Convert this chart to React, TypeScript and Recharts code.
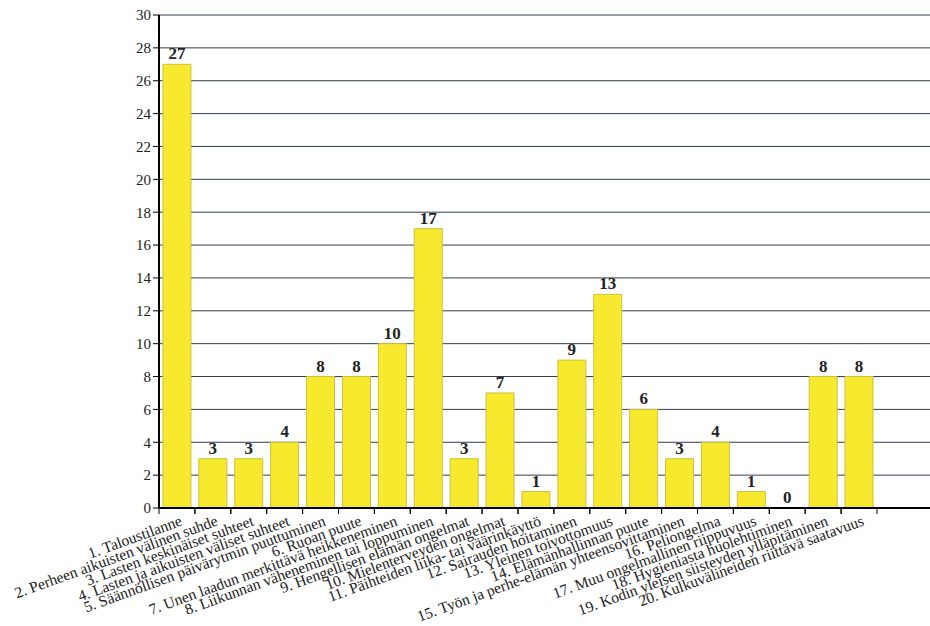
import React from "react";
import { Bar, CartesianGrid, ComposedChart, LabelList, Line, XAxis, YAxis } from "recharts";

const categories = [
  "1. Taloustilanne",
  "2. Perheen aikuisten välinen suhde",
  "3. Lasten keskinäiset suhteet",
  "4. Lasten ja aikuisten väliset suhteet",
  "5. Säännöllisen päivärytmin puuttuminen",
  "6. Ruoan puute",
  "7. Unen laadun merkittävä heikkeneminen",
  "8. Liikunnan väheneminen tai loppuminen",
  "9. Hengellisen elämän ongelmat",
  "10. Mielenterveyden ongelmat",
  "11. Päihteiden liika- tai väärinkäyttö",
  "12. Sairauden hoitaminen",
  "13. Yleinen toivottomuus",
  "14. Elämänhallinnan puute",
  "15. Työn ja perhe-elämän yhteensovittaminen",
  "16. Peliongelma",
  "17. Muu ongelmallinen riippuvuus",
  "18. Hygieniasta huolehtiminen",
  "19. Kodin yleisen siisteyden ylläpitäminen",
  "20. Kulkuvälineiden riittävä saatavuus",
];

const counts = [27, 3, 3, 4, 8, 8, 10, 17, 3, 7, 1, 9, 13, 6, 3, 4, 1, 0, 8, 8];

const yTicks = [0, 2, 4, 6, 8, 10, 12, 14, 16, 18, 20, 22, 24, 26, 28, 30];

const data = categories.map((name, i) => ({ name, count: counts[i] }));

const FONT = "'Liberation Serif', 'DejaVu Serif', serif";

function CategoryTick(props: any) {
  const { x, y, payload } = props;
  const half = payload?.offset ?? 18;
  return (
    <g>
      <line x1={x - half} y1={y - 8} x2={x - half} y2={y - 2} stroke="#000" strokeWidth={1} />
      <line x1={x + half} y1={y - 8} x2={x + half} y2={y - 2} stroke="#000" strokeWidth={1} />
      <text
        x={x + 6}
        y={y + 9}
        textAnchor="end"
        transform={`rotate(-20, ${x + 6}, ${y + 9})`}
        fontFamily={FONT}
        fontSize={15.5}
        fill="#222"
      >
        {payload.value}
      </text>
    </g>
  );
}

// drawn on an invisible line so that the zero value gets its label too
function ValueLabel(props: any) {
  const { x, y, width, value } = props;
  return (
    <text
      x={x + (width || 0) / 2}
      y={y - 5}
      textAnchor="middle"
      fontFamily={FONT}
      fontSize={17}
      fontWeight="bold"
      fill="#222"
    >
      {value}
    </text>
  );
}

export default function App() {
  return (
    <div style={{ position: "absolute", left: 0, top: 0, background: "#fff" }}>
      <ComposedChart
        width={930}
        height={626}
        data={data}
        margin={{ top: 15, right: 0, bottom: 0, left: 0 }}
        barCategoryGap="11%"
      >
        <CartesianGrid vertical={false} stroke="#2f3b55" strokeWidth={1} />
        <XAxis
          dataKey="name"
          interval={0}
          height={118}
          tickLine={false}
          axisLine={{ stroke: "#000", strokeWidth: 2 }}
          tick={<CategoryTick />}
          padding={{ left: 0, right: 53 }}
        />
        <YAxis
          width={159}
          domain={[0, 30]}
          ticks={yTicks}
          interval={0}
          axisLine={{ stroke: "#000", strokeWidth: 2 }}
          tickLine={{ stroke: "#000" }}
          tickSize={6}
          tick={{ fontFamily: FONT, fontSize: 15, fill: "#222" }}
        />
        <Bar dataKey="count" fill="#f7ea2e" stroke="#cfc03a" strokeWidth={1} isAnimationActive={false} />
        <Line
          dataKey="count"
          stroke="none"
          dot={false}
          activeDot={false}
          legendType="none"
          isAnimationActive={false}
        >
          <LabelList dataKey="count" content={<ValueLabel />} />
        </Line>
      </ComposedChart>
    </div>
  );
}
